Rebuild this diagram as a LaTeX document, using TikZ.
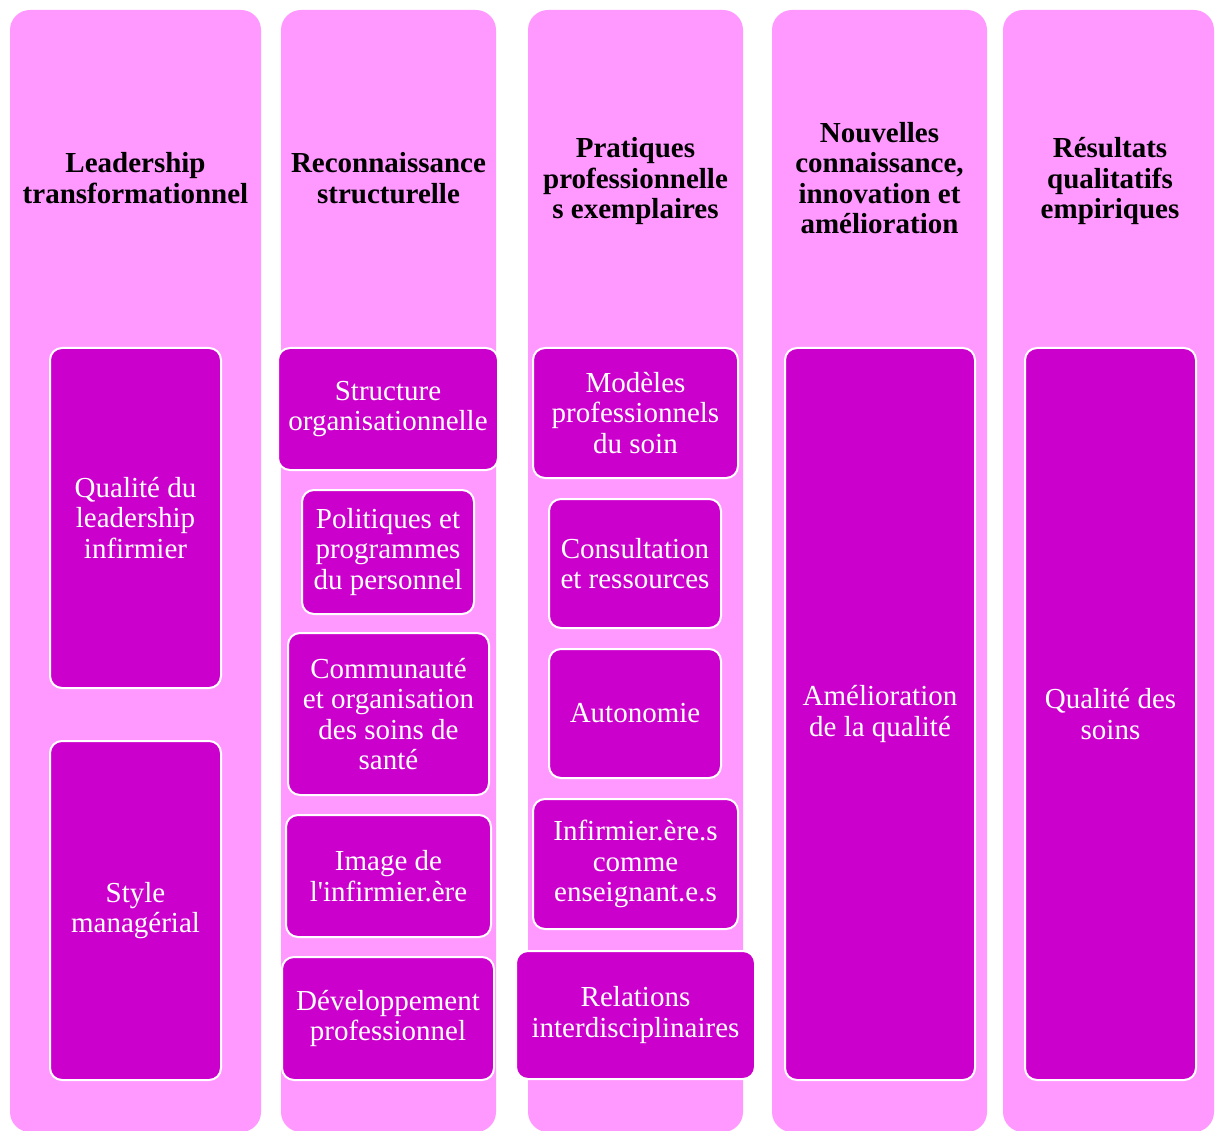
\documentclass[tikz,border=0pt]{standalone}
\usepackage{fontspec}
\setmainfont{Liberation Serif}
\definecolor{colpink}{HTML}{FF99FF}
\definecolor{boxmag}{HTML}{CC00CC}
\begin{document}
\begin{tikzpicture}[x=1pt,y=-1pt,
  colbox/.style={fill=colpink, draw=none, rounded corners=20pt, inner sep=0pt},
  innerbox/.style={fill=boxmag, draw=white, line width=2pt, rounded corners=12pt,
    inner sep=2pt, align=center, text=white, font=\fontsize{29}{30.5}\selectfont},
  header/.style={align=center, text=black, inner sep=0pt,
    font=\fontsize{29}{30.5}\selectfont\bfseries}]
\useasboundingbox (0,0) rectangle (1215,1131);
\fill[white] (0,0) rectangle (1215,1131);
% columns
\node[colbox, minimum width=251pt, minimum height=1122pt] (c1) at (135.5,571) {};
\node[colbox, minimum width=215pt, minimum height=1122pt] (c2) at (388.5,571) {};
\node[colbox, minimum width=215pt, minimum height=1122pt] (c3) at (635.5,571) {};
\node[colbox, minimum width=215pt, minimum height=1122pt] (c4) at (879.5,571) {};
\node[colbox, minimum width=211pt, minimum height=1122pt] (c5) at (1108.5,571) {};
% headers
\node[header] (h1) at (135.5,178) {Leadership\\transformationnel};
\node[header] (h2) at (388.5,178) {Reconnaissance\\structurelle};
\node[header] (h3) at (635.5,181.5) {Pratiques\\professionnelle\\s exemplaires};
\node[header] (h4) at (879.5,178) {Nouvelles\\connaissance,\\innovation et\\amélioration};
\node[header] (h5) at (1110,181.5) {Résultats\\qualitatifs\\empiriques};
% column 1
\node[innerbox, minimum width=171pt, minimum height=340pt] (a1) at (135.5,518) {Qualité du\\leadership\\infirmier};
\node[innerbox, minimum width=171pt, minimum height=339pt] (a2) at (135.5,910.5) {Style\\managérial};
% column 2
\node[innerbox, minimum width=220pt, minimum height=122pt] (b1) at (388,409) {Structure\\organisationnelle};
\node[innerbox, minimum width=172pt, minimum height=124pt] (b2) at (388,552) {Politiques et\\programmes\\du personnel};
\node[innerbox, minimum width=201pt, minimum height=162pt] (b3) at (388.5,714) {Communauté\\et organisation\\des soins de\\santé};
\node[innerbox, minimum width=205pt, minimum height=122pt] (b4) at (388.5,876) {Image de\\l\textquotesingle infirmier.ère};
\node[innerbox, minimum width=212pt, minimum height=123pt] (b5) at (388,1018.5) {Développement\\professionnel};
% column 3
\node[innerbox, minimum width=205pt, minimum height=130pt] (d1) at (635.5,413) {Modèles\\professionnels\\du soin};
\node[innerbox, minimum width=172pt, minimum height=129pt] (d2) at (635,563.5) {Consultation\\et ressources};
\node[innerbox, minimum width=172pt, minimum height=129pt] (d3) at (635,713.5) {Autonomie};
\node[innerbox, minimum width=205pt, minimum height=130pt] (d4) at (635.5,864) {Infirmier.ère.s\\comme\\enseignant.e.s};
\node[innerbox, minimum width=239pt, minimum height=128pt] (d5) at (635.5,1015) {Relations\\interdisciplinaires};
% column 4
\node[innerbox, minimum width=190pt, minimum height=732pt] (e1) at (880,714) {Amélioration\\de la qualité};
% column 5
\node[innerbox, minimum width=171pt, minimum height=732pt] (f1) at (1110.5,714) {Qualité des\\soins};
\end{tikzpicture}
\end{document}
